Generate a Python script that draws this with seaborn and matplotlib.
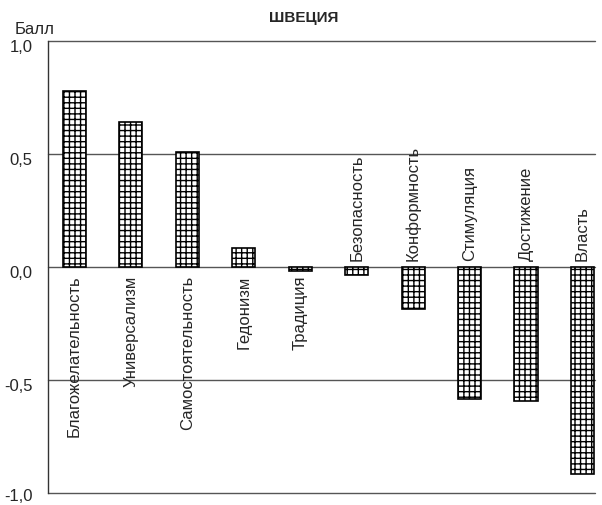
import matplotlib
matplotlib.use("Agg")
import matplotlib.pyplot as plt
import matplotlib.transforms as mtransforms
import seaborn as sns

categories = ['Благожелательность', 'Универсализм', 'Самостоятельность',
              'Гедонизм', 'Традиция', 'Безопасность', 'Конформность',
              'Стимуляция', 'Достижение', 'Власть']
values = [0.78, 0.64, 0.51, 0.084, -0.02, -0.035, -0.185, -0.585, -0.595, -0.915]
# label goes below the zero line for these, above for the rest
label_below = [True, True, True, True, True, False, False, False, False, False]
yticks = [-1.0, -0.5, 0.0, 0.5, 1.0]
ytick_labels = ['-1,0', '-0,5', '0,0', '0,5', '1,0']

sns.set_style('white')
plt.rcParams['font.family'] = ['Liberation Sans Narrow', 'Liberation Sans', 'DejaVu Sans']
plt.rcParams['hatch.linewidth'] = 1.0

fig = plt.figure(figsize=(6.02, 5.06), dpi=100)
ax = fig.add_axes([0.0797, 0.024, 0.9083, 0.893])

for y in yticks:
    ax.axhline(y, color='#555555', lw=1.0, zorder=0, clip_on=False)

sns.barplot(x=categories, y=values, color='white', width=0.41,
            edgecolor='black', linewidth=1.2, ax=ax, zorder=2)
for p in ax.patches:
    p.set_hatch('+++')

for i, (name, below) in enumerate(zip(categories, label_below)):
    if below:
        ax.text(i, -0.035, name, rotation=90, ha='center', va='top', fontsize=12)
    else:
        ax.text(i, 0.03, name, rotation=90, ha='center', va='bottom', fontsize=12)

ax.set_ylim(-1.0, 1.0)
ax.set_xlim(-0.47, 9.22)
ax.set_yticks(yticks)
ax.set_yticklabels(ytick_labels, fontsize=12)
ax.set_xticks([])
ax.tick_params(axis='y', length=0, pad=11)
# tick labels sit a little below their lines in the original
for k, lab in enumerate(ax.get_yticklabels()):
    dy = 1 if k == 0 else 4
    shift = mtransforms.ScaledTranslation(0, -dy / 100, fig.dpi_scale_trans)
    lab.set_transform(lab.get_transform() + shift)
for s in ['top', 'right', 'bottom']:
    ax.spines[s].set_visible(False)
ax.spines['left'].set_color('#333333')
ax.spines['left'].set_linewidth(1.0)
ax.set_xlabel('')
ax.set_ylabel('')

fig.text(0.504, 0.964, 'ШВЕЦИЯ', ha='center', va='center', fontsize=11, fontweight='bold')
fig.text(0.025, 0.941, 'Балл', ha='left', va='center', fontsize=12)

fig.savefig('out.png', dpi=100)
